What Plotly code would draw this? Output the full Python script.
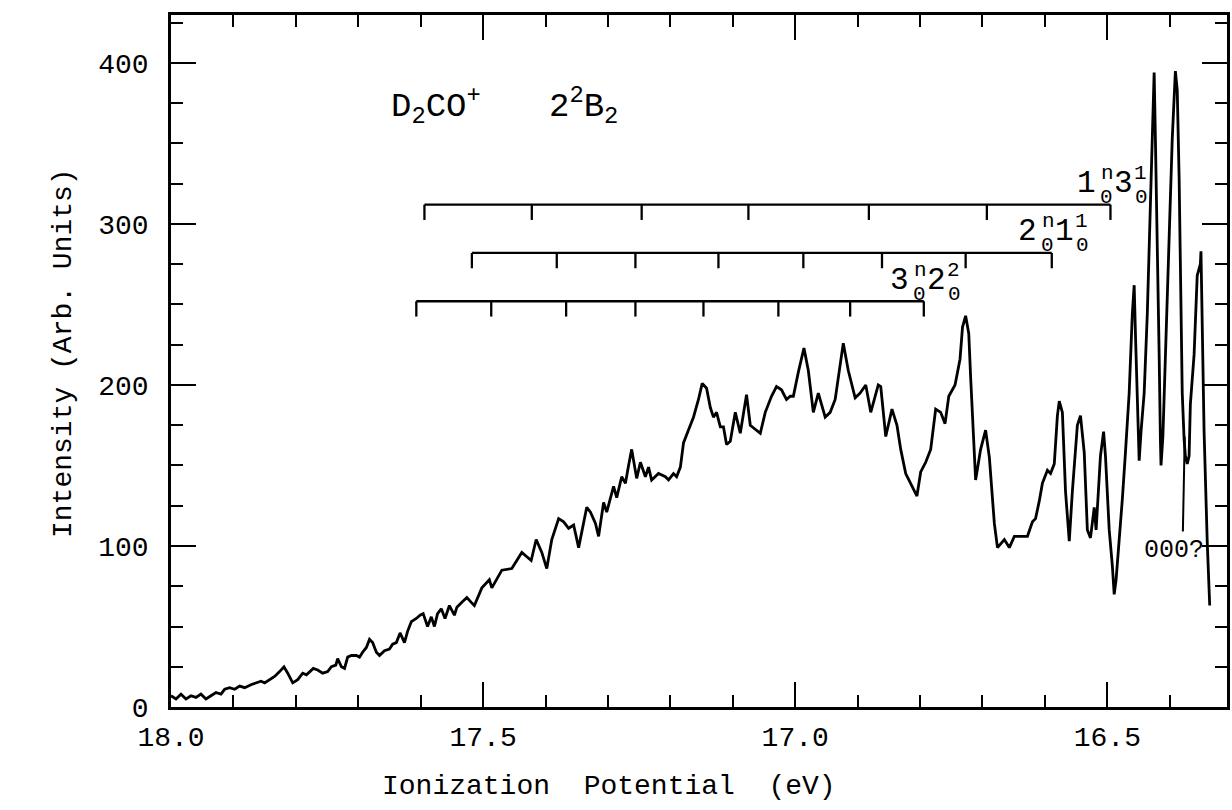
import plotly.graph_objects as go

# ---------------- data ----------------
ip_ev = [
    18.000, 17.992, 17.984, 17.976, 17.968, 17.960, 17.952, 17.944, 17.936, 17.928,
    17.920, 17.914, 17.906, 17.898, 17.890, 17.882, 17.871, 17.863, 17.856, 17.850,
    17.842, 17.834, 17.826, 17.819, 17.813, 17.805, 17.797, 17.789, 17.783, 17.778,
    17.772, 17.765, 17.757, 17.749, 17.743, 17.736, 17.733, 17.727, 17.722, 17.717,
    17.711, 17.703, 17.698, 17.693, 17.687, 17.682, 17.677, 17.671, 17.666, 17.658,
    17.650, 17.645, 17.639, 17.633, 17.626, 17.621, 17.615, 17.607, 17.601, 17.596,
    17.589, 17.583, 17.578, 17.573, 17.567, 17.561, 17.554, 17.546, 17.542, 17.534,
    17.526, 17.519, 17.514, 17.502, 17.490, 17.486, 17.470, 17.454, 17.438, 17.423,
    17.415, 17.406, 17.398, 17.390, 17.379, 17.371, 17.363, 17.355, 17.347, 17.334,
    17.328, 17.320, 17.315, 17.307, 17.302, 17.291, 17.286, 17.278, 17.272, 17.267,
    17.262, 17.254, 17.248, 17.240, 17.235, 17.230, 17.219, 17.208, 17.203, 17.195,
    17.190, 17.184, 17.179, 17.171, 17.163, 17.155, 17.149, 17.142, 17.136, 17.131,
    17.126, 17.120, 17.115, 17.110, 17.104, 17.096, 17.088, 17.078, 17.072, 17.056,
    17.048, 17.038, 17.030, 17.022, 17.014, 17.008, 17.003, 16.995, 16.986, 16.979,
    16.971, 16.963, 16.952, 16.944, 16.936, 16.923, 16.915, 16.904, 16.896, 16.887,
    16.879, 16.867, 16.863, 16.855, 16.845, 16.837, 16.831, 16.823, 16.815, 16.805,
    16.799, 16.791, 16.783, 16.775, 16.767, 16.760, 16.754, 16.744, 16.736, 16.732,
    16.727, 16.722, 16.719, 16.711, 16.703, 16.695, 16.689, 16.681, 16.676, 16.665,
    16.657, 16.649, 16.639, 16.628, 16.620, 16.615, 16.609, 16.604, 16.596, 16.591,
    16.585, 16.580, 16.577, 16.572, 16.567, 16.561, 16.556, 16.548, 16.543, 16.537,
    16.532, 16.527, 16.521, 16.518, 16.511, 16.506, 16.503, 16.497, 16.492, 16.489,
    16.486, 16.481, 16.476, 16.471, 16.465, 16.460, 16.457, 16.455, 16.452, 16.449,
    16.446, 16.441, 16.436, 16.431, 16.428, 16.425, 16.423, 16.420, 16.417, 16.415,
    16.414, 16.411, 16.407, 16.401, 16.396, 16.391, 16.388, 16.385, 16.383, 16.380,
    16.377, 16.375, 16.372, 16.369, 16.367, 16.361, 16.356, 16.351, 16.350, 16.348,
    16.345, 16.340, 16.336,
]
intensity = [
    7, 5, 8, 5, 7, 6, 8, 5, 7, 9,
    8, 11, 12, 11, 13, 12, 14, 15, 16, 15,
    17, 19, 22, 25, 21, 15, 17, 21, 20, 22,
    24, 23, 21, 22, 25, 26, 30, 25, 24, 31,
    32, 32, 31, 34, 37, 42, 40, 34, 32, 35,
    36, 39, 40, 46, 40, 47, 53, 55, 57, 58,
    50, 56, 50, 58, 61, 55, 63, 57, 62, 65,
    68, 65, 63, 74, 79, 74, 85, 86, 96, 91,
    104, 96, 86, 104, 117, 115, 111, 113, 99, 124,
    121, 114, 106, 127, 121, 137, 130, 143, 139, 150,
    160, 142, 152, 143, 149, 141, 145, 143, 141, 145,
    143, 149, 164, 172, 180, 191, 201, 198, 186, 180,
    183, 174, 174, 163, 165, 183, 170, 194, 175, 170,
    183, 193, 199, 197, 191, 193, 193, 208, 223, 209,
    183, 195, 180, 183, 191, 226, 209, 192, 195, 200,
    183, 200, 199, 168, 185, 175, 160, 145, 139, 131,
    146, 152, 160, 185, 183, 176, 193, 200, 216, 236,
    243, 232, 205, 141, 160, 172, 155, 114, 99, 104,
    99, 106, 106, 106, 115, 117, 128, 139, 147, 145,
    151, 181, 190, 183, 134, 103, 134, 175, 181, 158,
    110, 105, 124, 110, 156, 171, 156, 110, 88, 70,
    79, 103, 129, 158, 195, 244, 262, 232, 188, 153,
    171, 195, 244, 317, 353, 394, 353, 293, 219, 166,
    150, 168, 219, 293, 353, 395, 383, 329, 268, 195,
    166, 156, 151, 156, 188, 219, 268, 275, 283, 244,
    171, 103, 63,
]

# vibrational progressions (comb positions, eV) and their heights
comb_1n31_ev = [17.594, 17.422, 17.246, 17.075, 16.882, 16.693, 16.495]
comb_1n31_level = 312
comb_2n11_ev = [17.518, 17.382, 17.256, 17.123, 16.987, 16.861, 16.727, 16.589]
comb_2n11_level = 282
comb_3n22_ev = [17.607, 17.487, 17.367, 17.256, 17.147, 17.027, 16.912, 16.794]
comb_3n22_level = 252

# tentative origin marker: pointer from the label up to the spectrum
origin_ev = [16.379, 16.376]
origin_level = [109, 168]
origin_label_ev = 16.393
origin_label_level = 97

x_tick_vals = [18.0, 17.5, 17.0, 16.5]
x_tick_text = ["18.0", "17.5", "17.0", "16.5"]
y_tick_vals = [0, 100, 200, 300, 400]
y_tick_text = ["0", "100", "200", "300", "400"]

# ---------------- styling ----------------
FONT = "Liberation Mono, Courier New, monospace"
BLACK = "black"
COMB_TICK = 9.5

fig = go.Figure()

fig.add_trace(go.Scatter(
    x=ip_ev, y=intensity, mode="lines",
    line=dict(color=BLACK, width=2.8), showlegend=False, hoverinfo="skip",
))


def add_comb(energies, level):
    xs, ys = [min(energies), max(energies), None], [level, level, None]
    for e in energies:
        xs += [e, e, None]
        ys += [level, level - COMB_TICK, None]
    fig.add_trace(go.Scatter(x=xs, y=ys, mode="lines",
                             line=dict(color=BLACK, width=2.3),
                             showlegend=False, hoverinfo="skip"))


def add_tensor_label(x, y, b1, s1, p1, b2, s2, p2):
    parts = [
        (b1, -24, 21, 31), (s1, -4, 7, 21), (p1, -3, 31, 21),
        (b2, 13, 21, 31), (s2, 31, 7, 21), (p2, 30, 31, 21),
    ]
    for txt, dx, dy, size in parts:
        fig.add_annotation(x=x, y=y, xref="x", yref="y", text=txt,
                           showarrow=False, xshift=dx, yshift=dy,
                           xanchor="center", yanchor="middle",
                           font=dict(family=FONT, size=size, color=BLACK))


add_comb(comb_1n31_ev, comb_1n31_level)
add_comb(comb_2n11_ev, comb_2n11_level)
add_comb(comb_3n22_ev, comb_3n22_level)

add_tensor_label(min(comb_1n31_ev), comb_1n31_level, "1", "0", "n", "3", "0", "1")
add_tensor_label(min(comb_2n11_ev), comb_2n11_level, "2", "0", "n", "1", "0", "1")
add_tensor_label(min(comb_3n22_ev), comb_3n22_level, "3", "0", "n", "2", "0", "2")

# species / state labels
fig.add_annotation(
    x=17.650, y=373, xref="x", yref="y", xanchor="left", yanchor="middle",
    text="D<sub>2</sub>CO<sup>+</sup>",
    showarrow=False, font=dict(family=FONT, size=34, color=BLACK),
)
fig.add_annotation(
    x=17.398, y=373, xref="x", yref="y", xanchor="left", yanchor="middle",
    text="2<sup>2</sup>B<sub>2</sub>",
    showarrow=False, font=dict(family=FONT, size=34, color=BLACK),
)

# "000?" pointer and label
fig.add_trace(go.Scatter(
    x=origin_ev, y=origin_level, mode="lines",
    line=dict(color=BLACK, width=2), showlegend=False, hoverinfo="skip",
))
fig.add_annotation(
    x=origin_label_ev, y=origin_label_level, xref="x", yref="y", text="000?",
    showarrow=False, xanchor="center", yanchor="middle",
    font=dict(family=FONT, size=25, color=BLACK),
)

# axis titles
fig.add_annotation(
    x=-0.102, y=0.512, xref="paper", yref="paper", textangle=-90,
    text="Intensity (Arb. Units)", showarrow=False,
    xanchor="center", yanchor="middle",
    font=dict(family=FONT, size=28, color=BLACK),
)
fig.add_annotation(
    x=0.4145, y=-0.1156, xref="paper", yref="paper",
    text="Ionization&nbsp;&nbsp;Potential&nbsp;&nbsp;(eV)", showarrow=False,
    xanchor="center", yanchor="middle",
    font=dict(family=FONT, size=28, color=BLACK),
)

axis_common = dict(
    showline=True, linewidth=2.5, linecolor=BLACK, mirror="ticks",
    ticks="inside", ticklen=25, tickwidth=2, tickcolor=BLACK,
    showgrid=False, zeroline=False,
    tickfont=dict(family=FONT, size=28, color=BLACK),
)

fig.update_layout(
    width=1232, height=810, autosize=False,
    margin=dict(l=171, r=2, t=15, b=103),
    paper_bgcolor="white", plot_bgcolor="white",
    xaxis=dict(
        range=[18.0, 16.3083], tickmode="array",
        tickvals=x_tick_vals, ticktext=x_tick_text,
        minor=dict(ticks="inside", ticklen=12, tickwidth=2, tickcolor=BLACK,
                   tickmode="linear", tick0=16.5, dtick=0.1, showgrid=False),
        ticklabelstandoff=3,
        **axis_common,
    ),
    yaxis=dict(
        range=[0, 429.8], tickmode="array",
        tickvals=y_tick_vals, ticktext=y_tick_text,
        minor=dict(ticks="inside", ticklen=12, tickwidth=2, tickcolor=BLACK,
                   tickmode="linear", tick0=0, dtick=25, showgrid=False),
        ticklabelstandoff=14,
        **axis_common,
    ),
)

fig.write_html("out.html")
